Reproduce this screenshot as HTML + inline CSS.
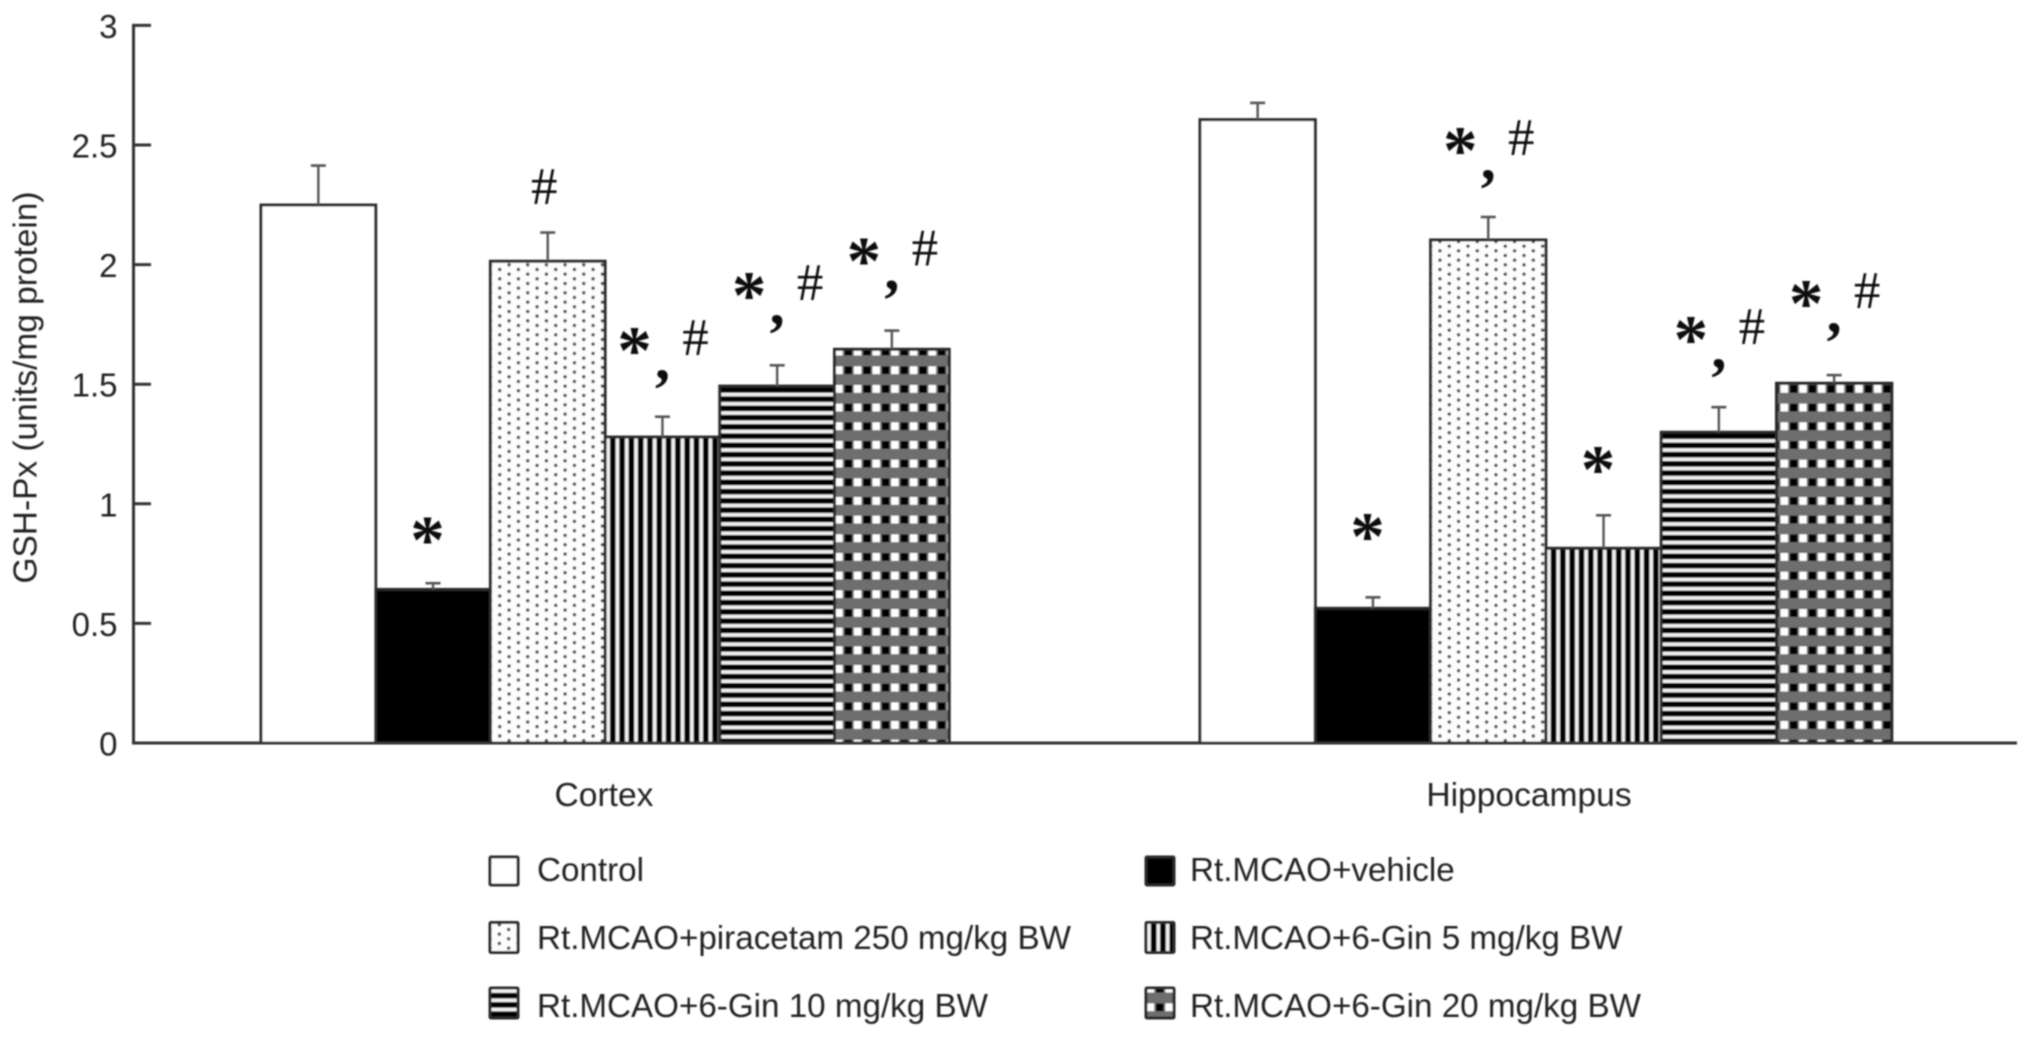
<!DOCTYPE html>
<html lang="en">
<head>
<meta charset="utf-8">
<title>GSH-Px chart</title>
<style>
html,body{margin:0;padding:0;background:#fff;}
svg{display:block;}
text{font-family:"Liberation Sans",sans-serif;fill:#222;}
.mark{font-family:"Liberation Serif",serif;fill:#111;}
</style>
</head>
<body>
<svg id="chart" xmlns="http://www.w3.org/2000/svg" width="2032" height="1039" viewBox="0 0 2032 1039">
  <defs>
    <filter id="soft" x="-2%" y="-2%" width="104%" height="104%"><feGaussianBlur stdDeviation="0.75"/></filter>
    <pattern id="fill-none" patternUnits="userSpaceOnUse" width="10" height="10"><rect width="10" height="10" fill="#fff"/></pattern>
    <pattern id="fill-solid" patternUnits="userSpaceOnUse" width="10" height="10"><rect width="10" height="10" fill="#000"/></pattern>
    <pattern id="fill-dots" patternUnits="userSpaceOnUse" width="18.67" height="9.33">
      <rect width="18.67" height="9.33" fill="#fdfdfd"/>
      <circle cx="9.33" cy="2.33" r="1.7" fill="#444"/>
      <circle cx="0" cy="7" r="1.7" fill="#444"/>
      <circle cx="18.67" cy="7" r="1.7" fill="#444"/>
    </pattern>
    <pattern id="fill-vertical" patternUnits="userSpaceOnUse" width="9.3" height="10">
      <rect width="9.3" height="10" fill="#000"/>
      <rect x="1.2" width="3.6" height="10" fill="#f2f2f2"/>
    </pattern>
    <pattern id="fill-horizontal" patternUnits="userSpaceOnUse" width="10" height="9.25">
      <rect width="10" height="9.25" fill="#000"/>
      <rect y="1.2" width="10" height="3.6" fill="#f2f2f2"/>
    </pattern>
    <pattern id="fill-check" patternUnits="userSpaceOnUse" width="18.67" height="18.67" patternTransform="translate(0,-8.67)">
      <rect width="18.67" height="18.67" fill="#6e6e6e"/>
      <rect x="0.6" y="5.4" width="7.6" height="7.8" fill="#fff"/>
      <rect x="10" y="5.4" width="7.6" height="7.8" fill="#000"/>
    </pattern>
    <pattern id="fill-check-shifted" patternUnits="userSpaceOnUse" width="18.67" height="18.67" patternTransform="translate(3.4,-8.67)">
      <rect width="18.67" height="18.67" fill="#6e6e6e"/>
      <rect x="0.6" y="5.4" width="7.6" height="7.8" fill="#fff"/>
      <rect x="10" y="5.4" width="7.6" height="7.8" fill="#000"/>
    </pattern>
  </defs>
  <g id="root" filter="url(#soft)"></g>
</svg>
<script>
const categories = ['Cortex', 'Hippocampus'];
const seriesNames = ['Control', 'Rt.MCAO+vehicle', 'Rt.MCAO+piracetam 250 mg/kg BW', 'Rt.MCAO+6-Gin 5 mg/kg BW', 'Rt.MCAO+6-Gin 10 mg/kg BW', 'Rt.MCAO+6-Gin 20 mg/kg BW'];
const cortexValues = [2.249, 0.642, 2.014, 1.279, 1.492, 1.646];
const cortexErrors = [0.165, 0.026, 0.12, 0.085, 0.087, 0.078];
const hippocampusValues = [2.606, 0.563, 2.103, 0.814, 1.299, 1.504];
const hippocampusErrors = [0.07, 0.046, 0.096, 0.138, 0.105, 0.034];
const cortexMarks = ['', '*', '#', '*,#', '*,#', '*,#'];
const hippocampusMarks = ['', '*', '*,#', '*', '*,#', '*,#'];
const cortexMarkLift = [0, 0.21, 0.19, 0.305, 0.318, 0.318];
const hippocampusMarkLift = [0, 0.284, 0.305, 0.22, 0.31, 0.326];
const yTicks = [0, 0.5, 1, 1.5, 2, 2.5, 3];
const yTickLabels = ['0', '0.5', '1', '1.5', '2', '2.5', '3'];

const NS = 'http://www.w3.org/2000/svg';
const root = document.getElementById('root');
const fills = ['fill-none', 'fill-solid', 'fill-dots', 'fill-vertical', 'fill-horizontal', 'fill-check'];
const slugs = ['control', 'vehicle', 'piracetam-250', 'gin-5', 'gin-10', 'gin-20'];

function yScale(v) { return 743 - 239.2 * v; }
function bandX(g, i) { return 261 + g * 939 + i * (114.7 + g * 0.6); }
function bandW(g) { return 114.7 + g * 0.6; }
function categoryX(g) { return 604 + g * 925; }

function make(tag, attrs, parent, content) {
  const el = document.createElementNS(NS, tag);
  for (const k in attrs) el.setAttribute(k, attrs[k]);
  if (content !== undefined) el.textContent = content;
  (parent || root).appendChild(el);
  return el;
}

/* y axis */
const yAxisLine = make('line', {x1: 133.5, x2: 133.5, y1: yScale(3) - 1.5, y2: yScale(0), stroke: '#333', 'stroke-width': 3});



yTicks.forEach(function (t, i) {
  const tick = make('line', {x1: 133.5, x2: 151, y1: yScale(t), y2: yScale(t), stroke: '#333', 'stroke-width': 3});
  
  
  const label = make('text', {x: 117.5, y: yScale(t) + 12.5, 'text-anchor': 'end', 'font-size': 33}, root, yTickLabels[i]);
  
  
});

const yTitle = make('text', {transform: 'translate(36.5,387.5) rotate(-90)', 'text-anchor': 'middle', 'font-size': 33, textLength: 392, lengthAdjust: 'spacingAndGlyphs'}, root, 'GSH-Px (units/mg protein)');



/* bars */
function drawGroup(g, values, errors, marks, lifts) {
  values.forEach(function (v, i) {
    const x = bandX(g, i);
    const w = bandW(g);
    const h = 743 - yScale(v);
    const fillId = (g === 1 && i === 5) ? 'fill-check-shifted' : fills[i];
    const bar = make('rect', {x: 0, y: -h, width: w, height: h, transform: 'translate(' + x + ',743)', fill: 'url(#' + fillId + ')', stroke: '#2a2a2a', 'stroke-width': 3});
    
    
  });
  values.forEach(function (v, i) {
    const cx = bandX(g, i) + bandW(g) / 2;
    const top = yScale(v + errors[i]);
    const stem = make('line', {x1: cx, x2: cx, y1: yScale(v), y2: top, stroke: '#555', 'stroke-width': 2.4});
    
    
    const cap = make('line', {x1: cx - 7.5, x2: cx + 7.5, y1: top, y2: top, stroke: '#555', 'stroke-width': 2.6});
    
    

    const m = marks[i];
    if (!m) return;
    const cy = yScale(v + errors[i] + lifts[i]);
    if (m === '*') {
      const star = make('text', {class: 'mark', x: cx - 5.5, y: cy + 30, 'text-anchor': 'middle', 'font-size': 69, 'font-weight': 'bold'}, root, '*');
      
      
    } else if (m === '#') {
      const hash = make('text', {class: 'mark', x: cx - 3.5, y: cy + 17, 'text-anchor': 'middle', 'font-size': 53}, root, '#');
      
      
    } else {
      const star2 = make('text', {class: 'mark', x: cx - 28, y: cy + 29.5, 'text-anchor': 'middle', 'font-size': 69, 'font-weight': 'bold'}, root, '*');
      
      
      const comma = make('text', {class: 'mark', x: cx, y: cy + 35, 'text-anchor': 'middle', 'font-size': 60, 'font-weight': 'bold'}, root, ',');
      
      
      const hash2 = make('text', {class: 'mark', x: cx + 33, y: cy + 11, 'text-anchor': 'middle', 'font-size': 53}, root, '#');
      
      
    }
  });
}
drawGroup(0, cortexValues, cortexErrors, cortexMarks, cortexMarkLift);
drawGroup(1, hippocampusValues, hippocampusErrors, hippocampusMarks, hippocampusMarkLift);

/* x axis */
const xAxisLine = make('line', {x1: 132, x2: 2017, y1: 743, y2: 743, stroke: '#333', 'stroke-width': 3});



categories.forEach(function (c, g) {
  const label = make('text', {x: categoryX(g), y: 806, 'text-anchor': 'middle', 'font-size': 33.6}, root, c);
  
  
});

/* legend */
seriesNames.forEach(function (name, i) {
  const col = i % 2;
  const row = Math.floor(i / 2);
  const sx = col === 0 ? 490 : 1146;
  const tx = col === 0 ? 537 : 1190;
  const swatchTop = 857 + row * 65.5;
  const baseline = 881 + row * 68;
  const entry = make('g', {});
  
  
  const swatch = make('rect', {x: 0, y: 0, width: 28, height: row === 0 ? 28 : 30, transform: 'translate(' + sx + ',' + swatchTop + ')', fill: 'url(#' + fills[i] + ')', stroke: '#2a2a2a', 'stroke-width': 3, rx: 1}, entry);
  
  
  const txt = make('text', {x: tx, y: baseline, 'font-size': 33.2}, entry, name);
  
  
});
</script>
</body>
</html>
